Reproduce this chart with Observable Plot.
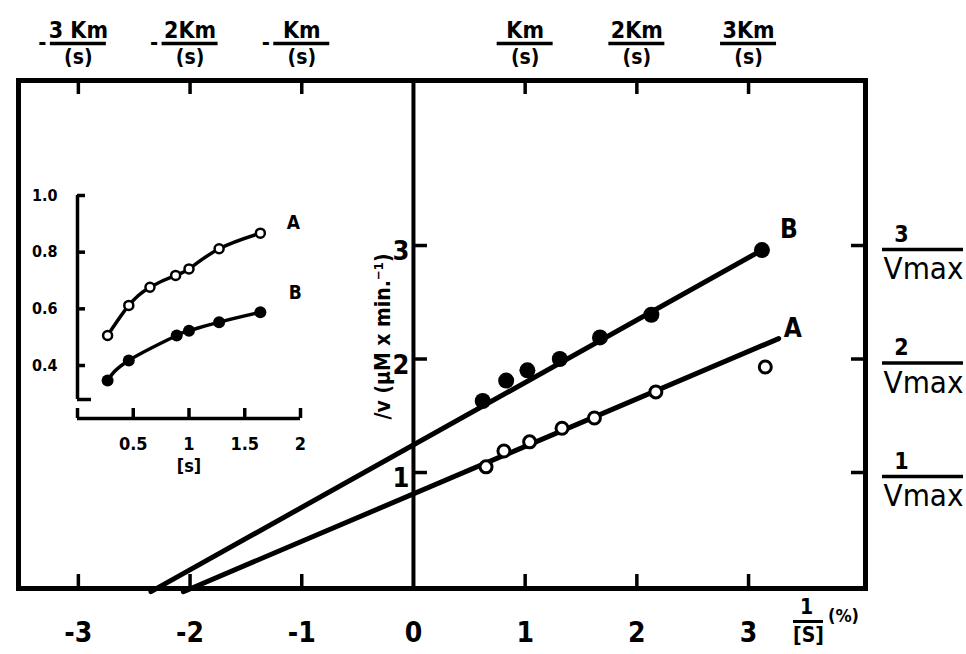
<!DOCTYPE html>
<html><head><meta charset="utf-8">
<script src="https://cdn.jsdelivr.net/npm/d3@7"></script>
<script src="https://cdn.jsdelivr.net/npm/@observablehq/plot@0.6"></script>
<style>
body{margin:0;background:#fff;}
#wrap{position:relative;width:966px;height:654px;overflow:hidden;background:#fff;}
#main{position:absolute;left:0;top:0;}
#inset{position:absolute;left:25px;top:170px;}
</style></head><body>
<div id="wrap"><div id="main"></div><div id="inset"></div></div>
<script>
// ---- Main Lineweaver-Burk plot data (1/[S] in %^-1, 1/v) ----
const seriesA_invS = [0.65, 0.81, 1.04, 1.33, 1.62, 2.17, 3.15];
const seriesA_invV = [1.05, 1.19, 1.27, 1.39, 1.48, 1.71, 1.93];
const seriesB_invS = [0.62, 0.83, 1.02, 1.31, 1.67, 2.13, 3.12];
const seriesB_invV = [1.63, 1.81, 1.90, 2.00, 2.19, 2.39, 2.96];
const fitA_invS = [-2.06, 3.27];
const fitA_invV = [-0.05, 2.18];
const fitB_invS = [-2.35, 3.12];
const fitB_invV = [-0.05, 2.96];
const xDomain = [-3.536, 4.047];
const yDomain = [-0.022, 4.454];
const xTicks = [-3, -2, -1, 0, 1, 2, 3];
const xTickLabels = ["-3", "-2", "-1", "0", "1", "2", "3"];
const frameTicks = [-3, -2, -1, 1, 2, 3];
const topNumerators = ["3 Km", "2Km", "Km", "Km", "2Km", "3Km"];
const topDenominator = "(s)";
const yTicks = [1, 2, 3];
const yTickLabels = ["1", "2", "3"];
const rightNumerators = ["1", "2", "3"];
const rightDenominator = "Vmax";
const yAxisLabel = "/v (\u03bcM x min.\u207b\u00b9)";
const seriesNames = ["A", "B"];

// ---- Inset: v vs [S] ----
const insetA_S = [0.27, 0.46, 0.65, 0.88, 1.00, 1.27, 1.64];
const insetA_v = [0.506, 0.612, 0.676, 0.718, 0.741, 0.812, 0.867];
const insetB_S = [0.27, 0.46, 0.89, 1.00, 1.27, 1.64];
const insetB_v = [0.347, 0.418, 0.506, 0.523, 0.553, 0.588];
const insetXDomain = [0, 2];
const insetYDomain = [0.28, 1.0];
const insetXTicks = [0.5, 1, 1.5, 2];
const insetXTickLabels = ["0.5", "1", "1.5", "2"];
const insetYTicks = [0.4, 0.6, 0.8, 1.0];
const insetYTickLabels = ["0.4", "0.6", "0.8", "1.0"];
const insetXLabel = "[s]";

const FONT = "'DejaVu Sans Condensed','DejaVu Sans',sans-serif";
const pts = (xs, ys) => xs.map((x, i) => ({x, y: ys[i]}));
const A = pts(seriesA_invS, seriesA_invV);
const B = pts(seriesB_invS, seriesB_invV);
const fitA = pts(fitA_invS, fitA_invV);
const fitB = pts(fitB_invS, fitB_invV);

const W = 966, H = 654, mL = 18, mR = 101, mT = 80, mB = 66;
const frameW = W - mL - mR, frameH = H - mT - mB;
const TICK = 14;
const C = {lineAnchor: "middle", textAnchor: "middle", fontWeight: "bold"};

const topLab = frameTicks.map((v, i) => ({v, num: topNumerators[i]}));
const rightLab = yTicks.map((v, i) => ({v, num: rightNumerators[i]}));
const botLab = xTicks.map((v, i) => ({v, t: xTickLabels[i]}));
const zeroLab = yTicks.map((v, i) => ({v, t: yTickLabels[i]}));

const main = Plot.plot({
  width: W, height: H,
  marginLeft: mL, marginRight: mR, marginTop: mT, marginBottom: mB,
  x: {domain: xDomain, axis: null},
  y: {domain: yDomain, axis: null},
  style: {fontFamily: FONT, background: "transparent", overflow: "visible"},
  marks: [
    Plot.frame({stroke: "black", strokeWidth: 5}),
    Plot.ruleX([0], {stroke: "black", strokeWidth: 4}),
    // inward ticks on the frame
    Plot.ruleX(frameTicks, {x: d => d, insetTop: frameH - TICK, strokeWidth: 3.5}),
    Plot.ruleX(frameTicks, {x: d => d, insetBottom: frameH - TICK, strokeWidth: 3.5}),
    Plot.ruleY(yTicks, {y: d => d, insetLeft: frameW - TICK, strokeWidth: 3.5}),
    Plot.ruleY(yTicks, {y: d => d, x1: 0, x2: 0, insetRight: -TICK, strokeWidth: 3.5}),
    // fitted lines
    Plot.line(fitA, {x: "x", y: "y", stroke: "black", strokeWidth: 5}),
    Plot.line(fitB, {x: "x", y: "y", stroke: "black", strokeWidth: 5}),
    // data
    Plot.dot(A, {x: "x", y: "y", r: 6, stroke: "black", strokeWidth: 3, fill: "white"}),
    Plot.dot(B, {x: "x", y: "y", r: 8, fill: "black", stroke: "none"}),
    // series labels
    Plot.text([fitB[fitB.length - 1]], {x: "x", y: "y", text: () => seriesNames[1], dx: 27, dy: -20, fontSize: 26, ...C}),
    Plot.text([fitA[fitA.length - 1]], {x: "x", y: "y", text: () => seriesNames[0], dx: 14, dy: -10, fontSize: 26, ...C}),
    // bottom tick labels
    Plot.text(botLab, {x: "v", text: "t", frameAnchor: "bottom", dy: 45, fontSize: 28, ...C}),
    // zero-line tick labels
    Plot.text(zeroLab, {x: () => 0, y: "v", text: "t", ...C, textAnchor: "end", dx: -4, dy: 6, fontSize: 27}),
    // y axis label
    Plot.text([yAxisLabel], {x: () => 0, y: () => 2.2, text: d => d, rotate: -90, dx: -30, fontSize: 21, ...C}),
    // 1/[S] (%) label
    Plot.text(["1"], {frameAnchor: "bottom-right", text: d => d, dx: -59, dy: 19, fontSize: 21, ...C}),
    Plot.ruleY([yDomain[0]], {y: d => d, x1: xDomain[1], x2: xDomain[1], dy: 33, insetLeft: -72, insetRight: 42, strokeWidth: 3}),
    Plot.text(["[S]"], {frameAnchor: "bottom-right", text: d => d, dx: -57, dy: 47, fontSize: 21, ...C}),
    Plot.text(["(%)"], {frameAnchor: "bottom-right", text: d => d, dx: -22, dy: 28, fontSize: 18, ...C}),
    // top fractions  ±n Km/(s)
    Plot.text(topLab, {x: "v", frameAnchor: "top", text: "num", dy: -50, fontSize: 23, ...C}),
    Plot.ruleY(topLab, {x1: "v", x2: "v", y: () => yDomain[1], dy: -37, insetLeft: -28, insetRight: -28, strokeWidth: 3.5}),
    Plot.text(topLab, {x: "v", frameAnchor: "top", text: () => topDenominator, dy: -23, fontSize: 21, ...C}),
    Plot.text(topLab.filter(d => d.v < 0), {x: "v", frameAnchor: "top", text: () => "-", dx: -36, dy: -38, fontSize: 22, ...C}),
    // right fractions n/Vmax
    Plot.text(rightLab, {y: "v", frameAnchor: "right", text: "num", dx: 36, dy: -11, fontSize: 23, ...C}),
    Plot.ruleY(rightLab, {y: "v", x1: () => xDomain[1], x2: () => xDomain[1], dy: 4, insetLeft: 17, insetRight: -98, strokeWidth: 3.5}),
    Plot.text(rightLab, {y: "v", frameAnchor: "right", text: () => rightDenominator, dx: 58, dy: 24, fontSize: 31, ...C, fontWeight: "normal"})
  ]
});
document.getElementById("main").appendChild(main);

// ---- Inset ----
const iA = pts(insetA_S, insetA_v);
const iB = pts(insetB_S, insetB_v);
const iW = 295, iH = 310, imL = 52, imR = 20, imT = 25, imB = 81;
const ixLab = insetXTicks.map((v, i) => ({v, t: insetXTickLabels[i]}));
const iyLab = insetYTicks.map((v, i) => ({v, t: insetYTickLabels[i]}));
const inset = Plot.plot({
  width: iW, height: iH,
  marginLeft: imL, marginRight: imR, marginTop: imT, marginBottom: imB,
  x: {domain: insetXDomain, axis: null},
  y: {domain: insetYDomain, axis: null},
  style: {fontFamily: FONT, background: "transparent", overflow: "visible"},
  marks: [
    // y axis with bracket ends and inward ticks
    Plot.ruleX([0], {x: d => d, y1: () => insetYDomain[0], y2: () => insetYDomain[1], strokeWidth: 3.5}),
    Plot.ruleY(insetYTicks, {y: d => d, x1: 0, x2: 0, insetRight: -8, strokeWidth: 3.5}),
    Plot.ruleY([insetYDomain[0]], {y: d => d, x1: 0, x2: 0, insetRight: -14, strokeWidth: 3.5}),
    // x axis offset below
    Plot.ruleY([insetYDomain[0]], {y: d => d, x1: () => insetXDomain[0], x2: () => insetXDomain[1], dy: 19, strokeWidth: 3.5}),
    Plot.ruleX([0, ...insetXTicks], {x: d => d, y1: () => insetYDomain[0], y2: () => insetYDomain[0], insetTop: -10, dy: 19, strokeWidth: 3.5}),
    // curves
    Plot.line(iA, {x: "x", y: "y", curve: "natural", strokeWidth: 3.5}),
    Plot.line(iB, {x: "x", y: "y", curve: "natural", strokeWidth: 3.5}),
    Plot.dot(iA, {x: "x", y: "y", r: 4.5, stroke: "black", strokeWidth: 2.5, fill: "white"}),
    Plot.dot(iB, {x: "x", y: "y", r: 6, fill: "black", stroke: "none"}),
    Plot.text([iA[iA.length - 1]], {x: "x", y: "y", text: () => seriesNames[0], dx: 33, dy: -10, fontSize: 19, ...C}),
    Plot.text([iB[iB.length - 1]], {x: "x", y: "y", text: () => seriesNames[1], dx: 35, dy: -19, fontSize: 19, ...C}),
    // tick labels
    Plot.text(ixLab, {x: "v", text: "t", frameAnchor: "bottom", dy: 45, fontSize: 18, ...C}),
    Plot.text([insetXLabel], {x: () => 1, frameAnchor: "bottom", text: d => d, dy: 67, fontSize: 18, ...C}),
    Plot.text(iyLab, {y: "v", text: "t", frameAnchor: "left", ...C, textAnchor: "end", dx: -20, fontSize: 16})
  ]
});
document.getElementById("inset").appendChild(inset);
</script>
</body></html>
